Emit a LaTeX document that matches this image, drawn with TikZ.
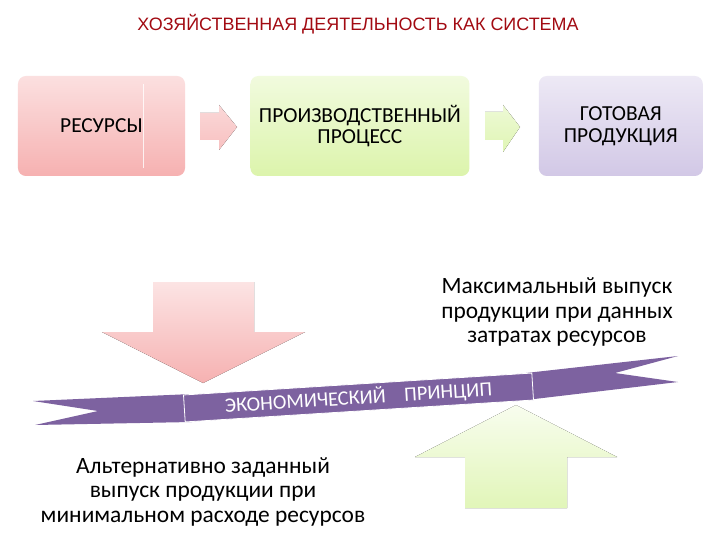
\documentclass[tikz,border=0pt]{standalone}
\usepackage{fontspec}
\setmainfont{Carlito}
\newfontfamily\titlefont{Liberation Sans}
\usetikzlibrary{positioning}
\definecolor{titlered}{HTML}{A20A12}
\definecolor{respink}{HTML}{F6B1B1}
\definecolor{proclime}{HTML}{DCF4AC}
\definecolor{prodlilac}{HTML}{D2C8E6}
\definecolor{ribbon}{HTML}{7D62A0}

\begin{document}
\begin{tikzpicture}[
  x=1bp, y=-1bp,
  stage/.style={rounded corners=8pt, minimum height=100bp, align=center,
                font=\fontsize{21.5}{22}\selectfont, inner sep=0pt},
  note/.style={align=center, font=\fontsize{23.5}{25}\selectfont},
]
  \useasboundingbox[fill=white] (0,0) rectangle (720,540);

  % Title
  \node[font=\titlefont\fontsize{18}{20}\selectfont, text=titlered] (title) at (358,24)
    {ХОЗЯЙСТВЕННАЯ ДЕЯТЕЛЬНОСТЬ КАК СИСТЕМА};

  % Stages of the system
  \node[stage, minimum width=167bp, top color=respink!40, bottom color=respink] (res) at (101.5,126)
    {РЕСУРСЫ};
  \node[stage, minimum width=219bp, top color=proclime!40, bottom color=proclime,
        right=65bp of res] (proc)
    {ПРОИЗВОДСТВЕННЫЙ\\ПРОЦЕСС};
  \node[stage, minimum width=164bp, top color=prodlilac!40, bottom color=prodlilac,
        right=69bp of proc] (prod)
    {ГОТОВАЯ\\ПРОДУКЦИЯ};
  \draw[white, opacity=0.8, line width=0.8pt] (143,84) -- (143,168);

  % Small block arrows
  \fill[top color=respink!50, bottom color=respink!80]
    (200,113) -- (219,113) -- (219,105) -- (237,127) -- (219,150) -- (219,140) -- (200,140) -- cycle;
  \fill[top color=proclime!50, bottom color=proclime!90]
    (485,112) -- (503,112) -- (503,105) -- (520,127) -- (503,152) -- (503,140) -- (485,140) -- cycle;

  % Big arrows
  \fill[top color=respink!35, bottom color=respink]
    (153,282) -- (254,282) -- (254,332) -- (305,332) -- (203,383) -- (102,332) -- (153,332) -- cycle;
  \fill[top color=proclime!20, bottom color=proclime!85]
    (465,508) -- (567,508) -- (567,457) -- (617,457) -- (516,405) -- (415,457) -- (465,457) -- cycle;

  % Ribbon
  \fill[ribbon] (33,401) -- (192,394) -- (192,422) -- (35,425) -- (98,411) -- cycle;
  \fill[ribbon] (526,373) -- (678,356) -- (615,373) -- (678,382) -- (526,400) -- cycle;
  \node[fill=ribbon, draw=white, line width=0.8pt, minimum width=349bp, minimum height=27bp,
        inner sep=0pt, rotate=3.6, text=white, font=\fontsize{20.5}{22}\selectfont] (band) at (358.5,397.5)
    {ЭКОНОМИЧЕСКИЙ\hspace{0.9em}ПРИНЦИП};

  % Notes
  \node[note] (maxout) at (557,312)
    {Максимальный выпуск\\продукции при данных\\затратах ресурсов};
  \node[note] (minuse) at (203,492)
    {Альтернативно заданный\\выпуск продукции при\\минимальном расходе ресурсов};

\end{tikzpicture}
\end{document}
